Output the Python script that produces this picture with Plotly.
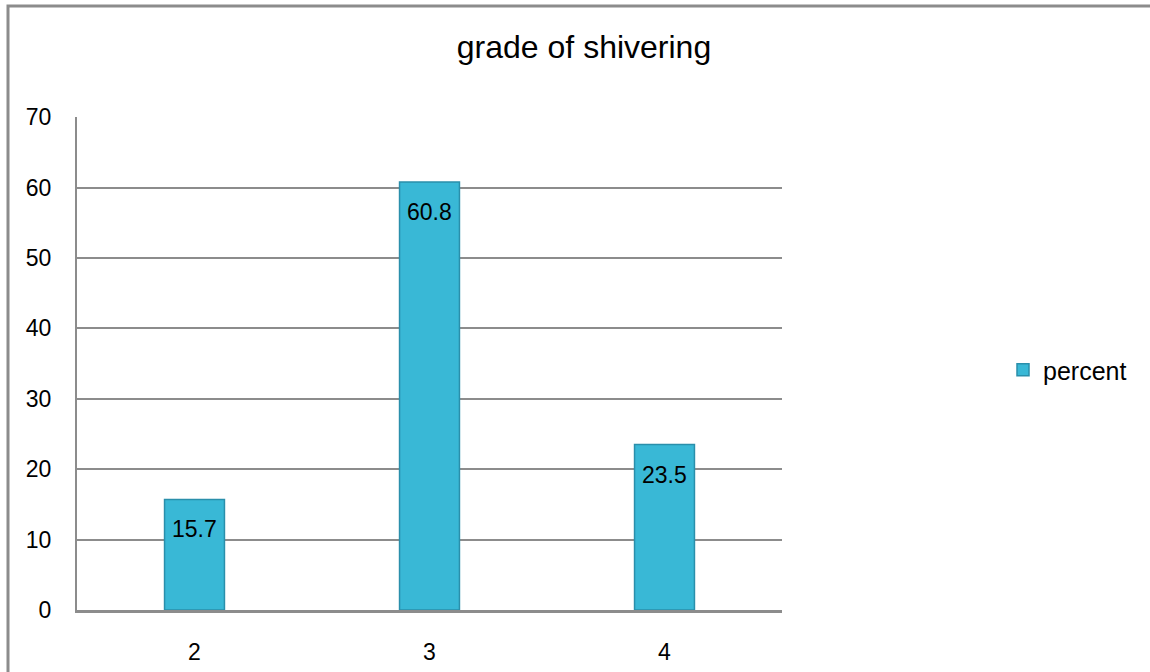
import plotly.graph_objects as go

categories = ["2", "3", "4"]
percent = [15.7, 60.8, 23.5]
y_ticks = [0, 10, 20, 30, 40, 50, 60, 70]

L, R, T, B = 77, 1150 - 782, 117, 672 - 610
W, H = 1150, 672
pw, ph = W - L - R, H - T - B
FONT = "Liberation Sans, Arial"

fig = go.Figure()
fig.add_trace(go.Bar(
    x=categories, y=percent, name="percent",
    width=0.255,
    marker=dict(color="#39b8d6", line=dict(color="#2a8fab", width=1.5)),
    showlegend=True,
))
for i, v in enumerate(percent):
    fig.add_annotation(x=i, y=v, text=f"{v}", showarrow=False, yanchor="middle",
                       yshift=-30, font=dict(color="black", size=23, family=FONT))

fig.update_layout(
    width=W, height=H,
    margin=dict(l=L, r=R, t=T, b=B, autoexpand=False),
    paper_bgcolor="white", plot_bgcolor="white",
    font=dict(family=FONT, size=22, color="black"),
    title=dict(text="grade of shivering", x=584 / W, xanchor="center",
               y=1 - 47 / H, yanchor="middle",
               font=dict(size=32, color="black", family=FONT)),
    showlegend=True,
    legend=dict(x=(1003 - L) / pw, y=(610 - 370) / ph, xanchor="left", yanchor="middle",
                font=dict(size=25, family=FONT), itemwidth=30, bgcolor="rgba(0,0,0,0)"),
    shapes=[dict(type="rect", xref="paper", yref="paper",
                 x0=(8 - L) / pw, x1=(1160 - L) / pw,
                 y0=-(B + 20) / ph, y1=1 + (T - 6) / ph,
                 line=dict(color="#8c8c8c", width=3), layer="below")],
)
fig.update_xaxes(
    type="category", showgrid=False, showline=True, linecolor="#8c8c8c", linewidth=3,
    ticks="", ticklabelstandoff=19, tickfont=dict(size=23, family=FONT), automargin=False,
)
fig.update_yaxes(
    range=[0, 70.02], tickvals=y_ticks, showgrid=True, gridcolor="#8c8c8c", gridwidth=1.5,
    showline=True, linecolor="#8c8c8c", linewidth=2, zeroline=False,
    ticks="", ticklabelstandoff=19, tickfont=dict(size=23, family=FONT), automargin=False,
)

fig.write_html("out.html")
